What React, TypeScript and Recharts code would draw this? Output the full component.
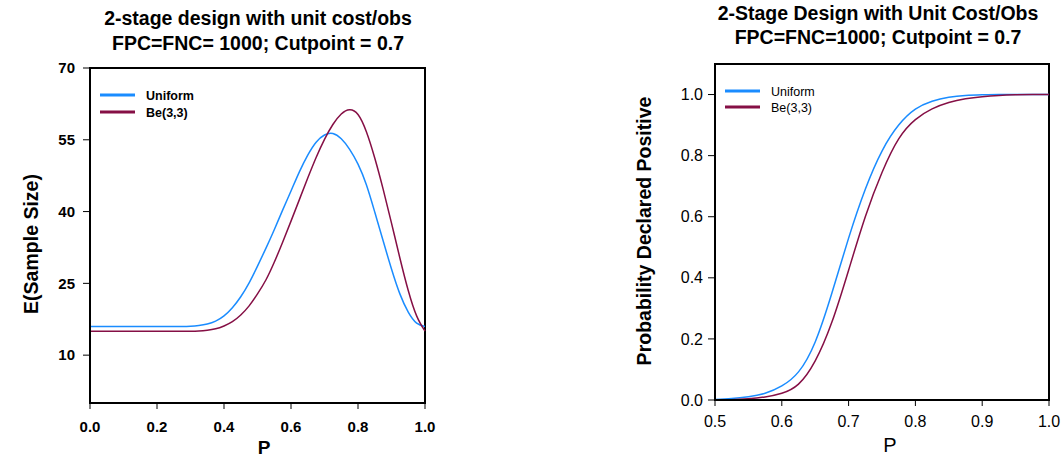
import React from "react";
import { LineChart, Line, XAxis, YAxis, ReferenceArea } from "recharts";

// Left chart: expected sample size vs P
const leftP = [0, 0.05, 0.1, 0.15, 0.2, 0.25, 0.275, 0.3, 0.325, 0.35, 0.375, 0.4, 0.425, 0.45, 0.475, 0.5, 0.525, 0.55, 0.575, 0.6, 0.625, 0.65, 0.675, 0.7, 0.725, 0.75, 0.775, 0.8, 0.825, 0.85, 0.875, 0.9, 0.925, 0.95, 0.975, 1.0];
const leftUniform = [16.0, 16.0, 16.0, 16.0, 16.0, 16.0, 16.0, 16.05, 16.2, 16.5, 17.1, 18.2, 19.9, 22.2, 25.1, 28.6, 32.3, 36.2, 40.3, 44.3, 48.3, 51.8, 54.5, 56.0, 56.3, 55.2, 53.0, 49.9, 45.6, 39.9, 33.9, 28.0, 22.8, 19.0, 16.7, 16.0];
const leftBeta = [15.0, 15.0, 15.0, 15.0, 15.0, 15.0, 15.0, 15.0, 15.05, 15.2, 15.5, 16.1, 17.0, 18.4, 20.3, 22.8, 25.7, 29.4, 33.6, 38.0, 42.5, 47.0, 51.3, 55.1, 58.2, 60.4, 61.3, 60.3, 56.7, 51.2, 44.7, 37.6, 30.3, 23.5, 18.2, 15.0];
const leftXTicks = [0, 0.2, 0.4, 0.6, 0.8, 1.0];
const leftYTicks = [10, 25, 40, 55, 70];

// Right chart: probability declared positive vs P
const rightP = [0.5, 0.525, 0.55, 0.575, 0.6, 0.625, 0.65, 0.675, 0.7, 0.725, 0.75, 0.775, 0.8, 0.825, 0.85, 0.875, 0.9, 0.925, 0.95, 0.975, 1.0];
const rightUniform = [0.002, 0.005, 0.011, 0.022, 0.046, 0.092, 0.19, 0.35, 0.53, 0.69, 0.815, 0.9, 0.952, 0.978, 0.991, 0.997, 0.999, 1.0, 1.0, 1.0, 1.0];
const rightBeta = [0.0005, 0.001, 0.004, 0.01, 0.022, 0.052, 0.128, 0.255, 0.425, 0.6, 0.745, 0.855, 0.918, 0.953, 0.974, 0.986, 0.993, 0.997, 0.999, 1.0, 1.0];
const rightXTicks = [0.5, 0.6, 0.7, 0.8, 0.9, 1.0];
const rightYTicks = [0, 0.2, 0.4, 0.6, 0.8, 1.0];

const seriesNames = ["Uniform", "Be(3,3)"];
const BLUE = "#1a8cff";
const MAROON = "#850f45";
const FONT = "'Liberation Sans', Arial, Helvetica, sans-serif";

const leftData = leftP.map((p, i) => ({ p, u: leftUniform[i], b: leftBeta[i] }));
const rightData = rightP.map((p, i) => ({ p, u: rightUniform[i], b: rightBeta[i] }));

export default function App() {
  const tickBold = { fontFamily: FONT, fontSize: 15, fontWeight: 700, fill: "#000" };
  const tickNorm = { fontFamily: FONT, fontSize: 16, fontWeight: 400, fill: "#000" };
  return (
    <div style={{ position: "absolute", left: 0, top: 0, width: 1064, height: 458, background: "#fff", fontFamily: FONT }}>
      <div style={{ position: "absolute", left: 0, top: 0 }}>
        <LineChart width={460} height={458} data={leftData} margin={{ top: 68, right: 35, bottom: 25, left: 0 }}>
          <XAxis
            dataKey="p"
            type="number"
            domain={[0, 1]}
            ticks={leftXTicks}
            tickFormatter={(v: number) => v.toFixed(1)}
            height={30}
            tickSize={6}
            tickMargin={12}
            tick={tickBold}
            axisLine={{ stroke: "#000", strokeWidth: 2 }}
            tickLine={{ stroke: "#000", strokeWidth: 1 }}
          />
          <YAxis
            type="number"
            domain={[0, 70]}
            ticks={leftYTicks}
            width={90}
            tickSize={7}
            tickMargin={8}
            tick={tickBold}
            axisLine={{ stroke: "#000", strokeWidth: 2 }}
            tickLine={{ stroke: "#000", strokeWidth: 1 }}
          />
          <ReferenceArea x1={0} x2={1} y1={0} y2={70} fill="none" stroke="#000" strokeWidth={2} ifOverflow="visible" />
          <Line type="natural" dataKey="u" stroke={BLUE} strokeWidth={1.5} dot={false} isAnimationActive={false} />
          <Line type="natural" dataKey="b" stroke={MAROON} strokeWidth={1.5} dot={false} isAnimationActive={false} />
        </LineChart>
      </div>
      <div style={{ position: "absolute", left: 560, top: 0 }}>
        <LineChart width={504} height={458} data={rightData} margin={{ top: 64, right: 15, bottom: 28, left: 0 }}>
          <XAxis
            dataKey="p"
            type="number"
            domain={[0.5, 1]}
            ticks={rightXTicks}
            tickFormatter={(v: number) => v.toFixed(1)}
            height={30}
            tickSize={6}
            tickMargin={10}
            tick={tickNorm}
            axisLine={{ stroke: "#000", strokeWidth: 2 }}
            tickLine={{ stroke: "#000", strokeWidth: 1 }}
          />
          <YAxis
            type="number"
            domain={[0, 1.1]}
            ticks={rightYTicks}
            tickFormatter={(v: number) => v.toFixed(1)}
            width={155}
            tickSize={7}
            tickMargin={5}
            tick={tickNorm}
            axisLine={{ stroke: "#000", strokeWidth: 2 }}
            tickLine={{ stroke: "#000", strokeWidth: 1 }}
          />
          <ReferenceArea x1={0.5} x2={1} y1={0} y2={1.1} fill="none" stroke="#000" strokeWidth={2} ifOverflow="visible" />
          <Line type="natural" dataKey="u" stroke={BLUE} strokeWidth={1.5} dot={false} isAnimationActive={false} />
          <Line type="natural" dataKey="b" stroke={MAROON} strokeWidth={1.5} dot={false} isAnimationActive={false} />
        </LineChart>
      </div>
      <svg width={1064} height={458} style={{ position: "absolute", left: 0, top: 0, pointerEvents: "none" }}>
        <g fontFamily={FONT} fill="#000">
          <text x={258} y={25} textAnchor="middle" fontSize={19.5} fontWeight={700}>2-stage design with unit cost/obs</text>
          <text x={258} y={50} textAnchor="middle" fontSize={19.5} fontWeight={700}>FPC=FNC= 1000; Cutpoint = 0.7</text>
          <text x={878} y={20} textAnchor="middle" fontSize={19.5} fontWeight={700}>2-Stage Design with Unit Cost/Obs</text>
          <text x={878} y={44} textAnchor="middle" fontSize={19.5} fontWeight={700}>FPC=FNC=1000; Cutpoint = 0.7</text>
          <text x={264} y={454} textAnchor="middle" fontSize={19} fontWeight={700}>P</text>
          <text x={890} y={452} textAnchor="middle" fontSize={20} fontWeight={400}>P</text>
          <text transform="translate(38,244) rotate(-90)" textAnchor="middle" fontSize={19.5} fontWeight={700}>E(Sample Size)</text>
          <text transform="translate(651,231) rotate(-90)" textAnchor="middle" fontSize={19.5} fontWeight={700}>Probability Declared Positive</text>
          <line x1={100} x2={135} y1={95} y2={95} stroke={BLUE} strokeWidth={3} />
          <line x1={100} x2={135} y1={112} y2={112} stroke={MAROON} strokeWidth={3} />
          <text x={146} y={99.5} fontSize={12.5} fontWeight={700}>{seriesNames[0]}</text>
          <text x={146} y={116.5} fontSize={12.5} fontWeight={700}>{seriesNames[1]}</text>
          <line x1={725} x2={760} y1={91} y2={91} stroke={BLUE} strokeWidth={3} />
          <line x1={725} x2={760} y1={107} y2={107} stroke={MAROON} strokeWidth={3} />
          <text x={771} y={95.5} fontSize={12.5} fontWeight={400}>{seriesNames[0]}</text>
          <text x={771} y={111.5} fontSize={12.5} fontWeight={400}>{seriesNames[1]}</text>
        </g>
      </svg>
    </div>
  );
}
